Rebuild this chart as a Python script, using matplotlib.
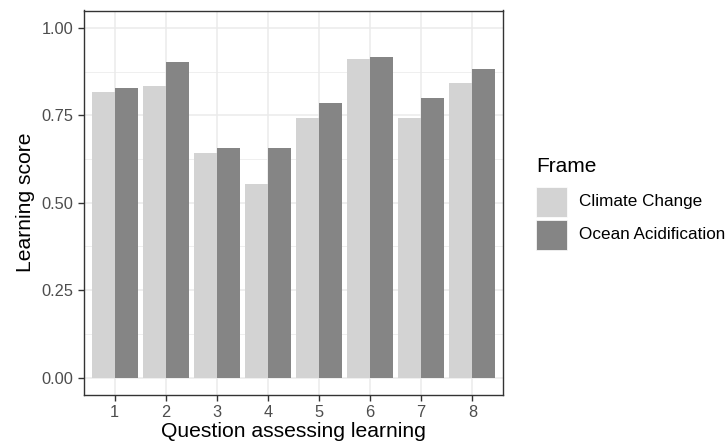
import numpy as np
import matplotlib
matplotlib.use("Agg")
import matplotlib.pyplot as plt
from matplotlib.patches import Rectangle
from matplotlib.ticker import MultipleLocator

questions = ["1", "2", "3", "4", "5", "6", "7", "8"]
climate_change = [0.816, 0.835, 0.641, 0.553, 0.742, 0.911, 0.742, 0.843]
ocean_acid = [0.827, 0.902, 0.657, 0.657, 0.786, 0.917, 0.801, 0.882]
frames = ["Climate Change", "Ocean Acidification"]
colors = ["#d3d3d3", "#858585"]

plt.rcParams['font.family'] = ['Liberation Sans', 'DejaVu Sans']

W, H = 725, 446
fig = plt.figure(figsize=(W/100, H/100), dpi=100)
ax = fig.add_axes([84/W, 1-395/H, (503-84)/W, (395-10.5)/H])

x = np.arange(1, len(questions)+1)
w = 0.45
ax.bar(x - w/2, climate_change, width=w, color=colors[0], label=frames[0], zorder=2)
ax.bar(x + w/2, ocean_acid, width=w, color=colors[1], label=frames[1], zorder=2)

ax.set_xlim(0.4, 8.6)
ax.set_ylim(-0.05, 1.05)
ax.set_xticks(x)
ax.set_xticklabels(questions)
ax.yaxis.set_major_locator(MultipleLocator(0.25))
ax.yaxis.set_minor_locator(MultipleLocator(0.125))
ax.yaxis.set_major_formatter(plt.FuncFormatter(lambda v, p: f"{v:.2f}"))

ax.grid(True, which="major", color="#ebebeb", linewidth=1.1, zorder=0)
ax.grid(True, which="minor", axis="y", color="#ebebeb", linewidth=0.55, zorder=0)
ax.set_axisbelow(True)
for s in ax.spines.values():
    s.set_color("#333333")
    s.set_linewidth(1.0)
ax.tick_params(axis="both", which="major", colors="#333333", labelcolor="#4d4d4d",
               labelsize=11.8, length=4.5, width=1.0, pad=3)
ax.tick_params(axis="y", which="minor", length=0)

ax.set_xlabel("Question assessing learning", fontsize=15.2, color="black", labelpad=1)
ax.set_ylabel("Learning score", fontsize=15.2, color="black", labelpad=5)

# legend drawn by hand (ggplot style keys)
fig.text(536/W, 1-166/H, "Frame", fontsize=15, va="center", ha="left")
key_w, key_h, step = 31, 30, 33.3
for i, (lab, c) in enumerate(zip(frames, colors)):
    top = 186.7 + i*step
    fig.patches.append(Rectangle((536/W, 1-(top+key_h)/H), key_w/W, key_h/H,
                                 transform=fig.transFigure, facecolor=c,
                                 edgecolor="white", linewidth=0.5))
    fig.text(579/W, 1-(top+key_h/2)/H, lab, fontsize=12.3, va="center", ha="left",
             color="black")

fig.savefig("out.png", dpi=100)
